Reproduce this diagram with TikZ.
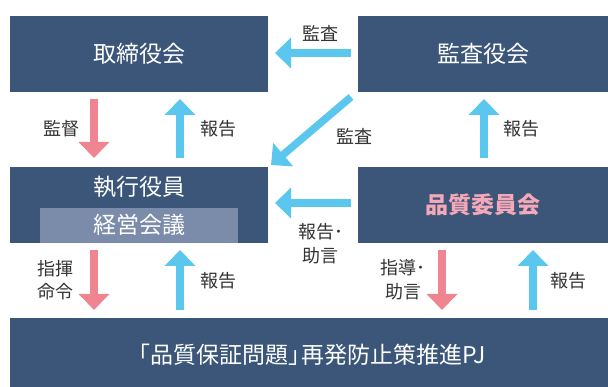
\documentclass[tikz,border=0pt]{standalone}
\usepackage{fontspec}
\setmainfont{Noto Sans CJK JP}
\usetikzlibrary{arrows.meta}
\definecolor{navy}{HTML}{3B5679}
\definecolor{innerbox}{HTML}{7B8BAA}
\definecolor{sky}{HTML}{5BC7EE}
\definecolor{rose}{HTML}{EE8591}
\definecolor{pinktext}{HTML}{F5A9B8}
\definecolor{labeltext}{HTML}{333333}
\begin{document}
\begin{tikzpicture}[x=1pt,y=-1pt,
  box/.style={fill=navy, inner sep=0pt, anchor=north west},
  boxtext/.style={text=white, inner sep=0pt, font=\fontsize{23}{26}\selectfont},
  lbl/.style={text=labeltext, inner sep=0pt, font=\fontsize{18}{20}\selectfont},
  arrowtip/.style={-{Triangle[width=30pt,length=16pt]}},
  bluearrow/.style={draw=sky, line width=7.5pt, arrowtip},
  redarrow/.style={draw=rose, line width=7.5pt, arrowtip},
]
\useasboundingbox (0,0) rectangle (608,387);
% boxes
\node[box, minimum width=258pt, minimum height=76pt] (tori) at (10,16) {};
\node[box, minimum width=250pt, minimum height=76pt] (kansa) at (358,16) {};
\node[box, minimum width=258pt, minimum height=76pt] (shikko) at (10,167) {};
\node[fill=innerbox, inner sep=0pt, anchor=north west, minimum width=198pt, minimum height=35pt] (keiei) at (40,208) {};
\node[box, minimum width=250pt, minimum height=76pt] (hinshitsu) at (358,167) {};
\node[box, minimum width=598pt, minimum height=69pt] (pj) at (10,318) {};
% box texts
\node[boxtext] (toritxt) at (139,54) {取締役会};
\node[boxtext] (kansatxt) at (483,54) {監査役会};
\node[boxtext] (shikkotxt) at (139,187) {執行役員};
\node[boxtext] (keieitxt) at (139,225) {経営会議};
\node[boxtext, text=pinktext, font=\fontsize{23}{26}\selectfont\bfseries] (hintxt) at (483,205) {品質委員会};
\node[boxtext] (pjtxt) at (310,355) {\hspace{-0.3em}「品質保証問題」\hspace{-0.4em}再発防止策推進PJ};
% connector end points
\coordinate (a1s) at (351,53);  \coordinate (a1e) at (275,53);
\coordinate (a2s) at (94,99);   \coordinate (a2e) at (94,158);
\coordinate (a3s) at (180,158); \coordinate (a3e) at (180,99);
\coordinate (a4s) at (351,97);  \coordinate (a4e) at (271,165);
\coordinate (a5s) at (484,158); \coordinate (a5e) at (484,99);
\coordinate (a6s) at (351,203); \coordinate (a6e) at (275,203);
\coordinate (a7s) at (94,250);  \coordinate (a7e) at (94,310);
\coordinate (a8s) at (180,310); \coordinate (a8e) at (180,250);
\coordinate (a9s) at (442,250); \coordinate (a9e) at (442,310);
\coordinate (a10s) at (533,310); \coordinate (a10e) at (533,250);
% connectors
\draw[bluearrow] (a1s) -- (a1e);
\draw[redarrow] (a2s) -- (a2e);
\draw[bluearrow] (a3s) -- (a3e);
\draw[bluearrow] (a4s) -- (a4e);
\draw[bluearrow] (a5s) -- (a5e);
\draw[bluearrow] (a6s) -- (a6e);
\draw[redarrow] (a7s) -- (a7e);
\draw[bluearrow] (a8s) -- (a8e);
\draw[redarrow] (a9s) -- (a9e);
\draw[bluearrow] (a10s) -- (a10e);
% labels
\node[lbl] (l1) at (320,33) {監査};
\node[lbl] (l2) at (61,129) {監督};
\node[lbl] (l3) at (218,129) {報告};
\node[lbl] (l4) at (354,136) {監査};
\node[lbl] (l5) at (521,129) {報告};
\node[lbl, anchor=west] (l6a) at (298,232) {報告･};
\node[lbl] (l6b) at (320,256) {助言};
\node[lbl, anchor=west] (l9a) at (380,268) {指導･};
\node[lbl] (l9b) at (403,292) {助言};
\node[lbl] (l7a) at (55,269) {指揮};
\node[lbl] (l7b) at (55,292) {命令};
\node[lbl] (l8) at (218,281) {報告};
\node[lbl] (l10) at (568,281) {報告};
\end{tikzpicture}
\end{document}
